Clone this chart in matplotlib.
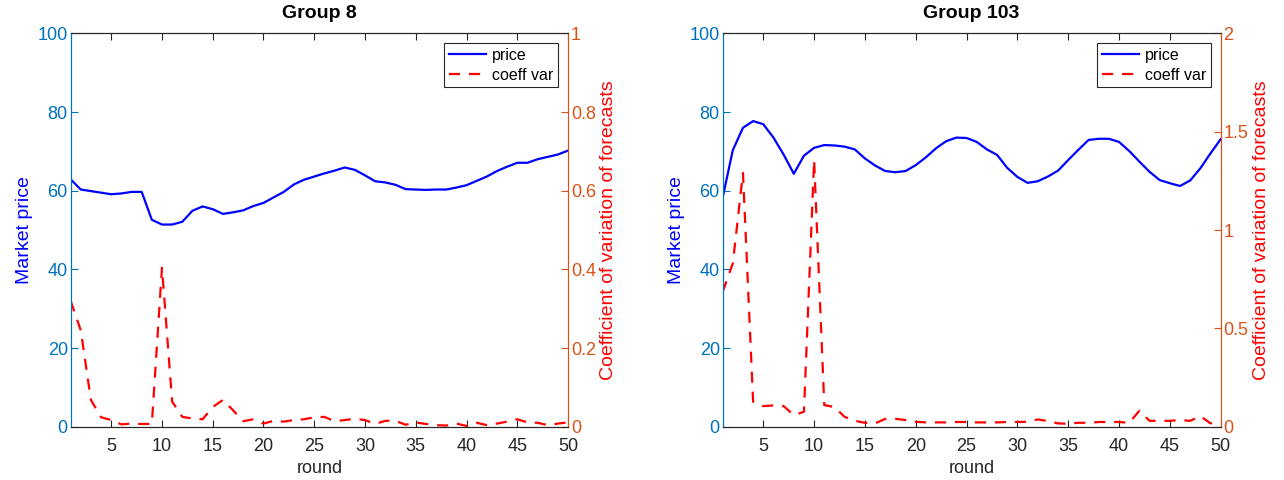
import matplotlib
matplotlib.use('Agg')
import matplotlib.pyplot as plt

plt.rcParams['font.family'] = ['Liberation Sans', 'DejaVu Sans']

# rounds 1..50
rounds = list(range(1, 51))

# group 8 - market price and coefficient of variation of forecasts
price_g8 = [62.9, 60.3, 59.9, 59.5, 59.1, 59.3, 59.7, 59.7, 52.6, 51.4,
            51.4, 52.1, 54.9, 56.0, 55.3, 54.1, 54.5, 55.0, 56.1, 56.9,
            58.3, 59.7, 61.6, 62.8, 63.6, 64.4, 65.1, 65.9, 65.3, 63.9,
            62.4, 62.1, 61.5, 60.4, 60.3, 60.2, 60.3, 60.3, 60.8, 61.4,
            62.5, 63.6, 65.0, 66.1, 67.1, 67.1, 68.0, 68.6, 69.2, 70.2]
cv_g8 = [0.32, 0.245, 0.068, 0.024, 0.017, 0.006, 0.008, 0.007, 0.007, 0.404,
         0.064, 0.025, 0.021, 0.019, 0.05, 0.068, 0.042, 0.014, 0.019, 0.008,
         0.015, 0.013, 0.017, 0.019, 0.024, 0.025, 0.014, 0.017, 0.020, 0.017,
         0.007, 0.015, 0.015, 0.005, 0.011, 0.007, 0.004, 0.003, 0.008, 0.002,
         0.010, 0.004, 0.008, 0.013, 0.019, 0.011, 0.010, 0.004, 0.008, 0.011]

# group 103
price_g103 = [58.2, 70.3, 76.0, 77.7, 76.9, 73.5, 69.2, 64.3, 68.9, 70.9,
              71.6, 71.5, 71.2, 70.5, 68.2, 66.4, 65.0, 64.7, 65.0, 66.5,
              68.5, 70.8, 72.6, 73.5, 73.4, 72.4, 70.5, 69.1, 65.8, 63.5,
              62.0, 62.4, 63.6, 65.1, 67.8, 70.4, 72.9, 73.2, 73.2, 72.4,
              70.1, 67.4, 64.8, 62.7, 61.9, 61.2, 62.6, 65.7, 69.5, 73.1]
cv_g103 = [0.686, 0.83, 1.29, 0.127, 0.105, 0.108, 0.105, 0.059, 0.076, 1.356,
           0.11, 0.10, 0.05, 0.03, 0.02, 0.017, 0.04, 0.04, 0.034, 0.025,
           0.022, 0.022, 0.022, 0.024, 0.024, 0.022, 0.022, 0.022, 0.024, 0.024,
           0.025, 0.037, 0.029, 0.017, 0.015, 0.02, 0.02, 0.024, 0.024, 0.024,
           0.02, 0.081, 0.03, 0.03, 0.03, 0.034, 0.03, 0.054, 0.017, 0.025]

BLUE_TICK = '#0072BD'
ORANGE_TICK = '#D95319'
GRAY = '#262626'

fig = plt.figure(figsize=(12.84, 4.8), dpi=100)

panels = [
    ('Group 8', price_g8, cv_g8, 1.0, [0, 0.2, 0.4, 0.6, 0.8, 1.0], ['0', '0.2', '0.4', '0.6', '0.8', '1'],
     [0.055, 0.111, 0.3874, 0.8195]),
    ('Group 103', price_g103, cv_g103, 2.0, [0, 0.5, 1.0, 1.5, 2.0], ['0', '0.5', '1', '1.5', '2'],
     [0.5628, 0.111, 0.3879, 0.8195]),
]

for title, price, cv, cv_max, cv_ticks, cv_labels, rect in panels:
    ax = fig.add_axes(rect)
    ax2 = ax.twinx()

    l1, = ax.plot(rounds, price, color='#0000FF', linewidth=1.6, label='price')
    l2, = ax2.plot(rounds, cv, color='#FF0000', linewidth=1.6, linestyle=(0, (5, 4)), label='coeff var')

    ax.set_xlim(1, 50)
    ax.set_ylim(0, 100)
    ax2.set_ylim(0, cv_max)
    ax.set_xticks(range(5, 51, 5))
    ax.set_yticks(range(0, 101, 20))
    ax2.set_yticks(cv_ticks)
    ax2.set_yticklabels(cv_labels)

    ax.tick_params(axis='x', direction='in', top=True, colors=GRAY, labelsize=13, length=5, pad=8)
    ax.tick_params(axis='y', direction='in', colors=BLUE_TICK, labelsize=13, length=5, pad=2)
    ax2.tick_params(axis='y', direction='in', colors=ORANGE_TICK, labelsize=13, length=5, pad=2)

    for a in (ax, ax2):
        a.spines['top'].set_color(GRAY)
        a.spines['bottom'].set_color(GRAY)
        a.spines['left'].set_color(BLUE_TICK)
        a.spines['right'].set_color(ORANGE_TICK)

    ax.set_title(title, fontsize=14, fontweight='bold', pad=11)
    ax.set_xlabel('round', fontsize=13, color=GRAY, labelpad=4)
    ax.set_ylabel('Market price', fontsize=14, color='#0000FF', labelpad=3)
    ax2.set_ylabel('Coefficient of variation of forecasts', fontsize=14, color='#FF0000', labelpad=3)

    leg = ax2.legend([l1, l2], ['price', 'coeff var'], loc='upper right', fontsize=11.5,
                     fancybox=False, framealpha=1, edgecolor=GRAY, borderpad=0.3,
                     handlelength=2.3, borderaxespad=0.6, labelspacing=0.3, handletextpad=0.4)
    leg.get_frame().set_linewidth(0.8)

fig.savefig('out.png', dpi=100)
